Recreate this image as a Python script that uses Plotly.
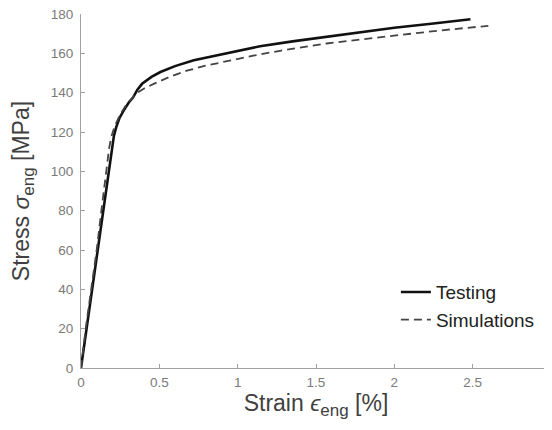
import plotly.graph_objects as go

# Testing curve (solid)
test_strain = [0, 0.035, 0.07, 0.105, 0.14, 0.175, 0.195, 0.21, 0.225, 0.245, 0.273, 0.305, 0.332,
               0.36, 0.39, 0.45, 0.507, 0.6, 0.72, 0.93, 1.143, 1.35, 1.568, 1.8, 2.0, 2.25, 2.486]
test_stress = [0, 20, 40, 60, 80, 100, 110, 118, 122.5, 127, 131, 135, 137.5,
               141.5, 144.5, 148, 150.5, 153.5, 156.5, 160.2, 163.6, 166.1, 168.4, 170.9, 173.0, 175.2, 177.3]

# Simulation curve (dashed)
sim_strain = [0, 0.03, 0.065, 0.1, 0.13, 0.16, 0.18, 0.195, 0.215, 0.25, 0.29, 0.33, 0.347,
              0.4, 0.464, 0.57, 0.676, 0.8, 0.93, 1.1, 1.27, 1.568, 1.8, 2.0, 2.3, 2.6]
sim_stress = [0, 20, 40, 60, 80, 100, 112, 118, 123, 129, 134, 137.5, 139.3,
              142, 144.5, 148.2, 151.2, 153.8, 156, 158.8, 161.3, 165, 167.2, 169, 171.7, 174]

x_ticks = [0, 0.5, 1, 1.5, 2, 2.5, 3]
x_tick_labels = ["0", "0.5", "1", "1.5", "2", "2.5", "3"]
y_ticks = [0, 20, 40, 60, 80, 100, 120, 140, 160, 180]

FONT = "Liberation Sans, Arial"

fig = go.Figure()
fig.add_trace(go.Scatter(x=test_strain, y=test_stress, mode="lines", name="Testing",
                         line=dict(color="#111111", width=2.6)))
fig.add_trace(go.Scatter(x=sim_strain, y=sim_stress, mode="lines", name="Simulations",
                         line=dict(color="#444444", width=1.8, dash="8px,5px")))

axis_common = dict(showgrid=False, zeroline=False, showline=True, linecolor="#a0a0a0", linewidth=1,
                   ticks="inside", ticklen=4, tickcolor="#a0a0a0", tickwidth=1,
                   tickfont=dict(family=FONT, size=13.5, color="#7a7a7a"),
                   ticklabeloverflow="allow", automargin=False)

sub_style = '<sub><span style="font-size:17px">eng</span></sub>'

# The page body has an 8px default margin, so the figure is sized to fill the 552x430 window.
fig.update_layout(
    width=544, height=422,
    margin=dict(l=73, r=1, t=6, b=62),
    paper_bgcolor="white", plot_bgcolor="white",
    xaxis=dict(range=[0, 3], tickvals=x_ticks, ticktext=x_tick_labels, ticklabelstandoff=2,
               title=dict(text="Strain <i>ϵ</i>" + sub_style + " [%]", standoff=3,
                          font=dict(family=FONT, size=23, color="#404040")),
               **axis_common),
    yaxis=dict(range=[0, 180], tickvals=y_ticks, ticklabelstandoff=4,
               title=dict(text="Stress <i>σ</i>" + sub_style + " [MPa]", standoff=14,
                          font=dict(family=FONT, size=23, color="#404040")),
               **axis_common),
    legend=dict(x=0.67, y=0.268, xanchor="left", yanchor="top", bgcolor="rgba(0,0,0,0)",
                font=dict(family=FONT, size=19, color="#222222"),
                tracegroupgap=0, itemwidth=30),
    showlegend=True,
)

fig.write_html("out.html")
